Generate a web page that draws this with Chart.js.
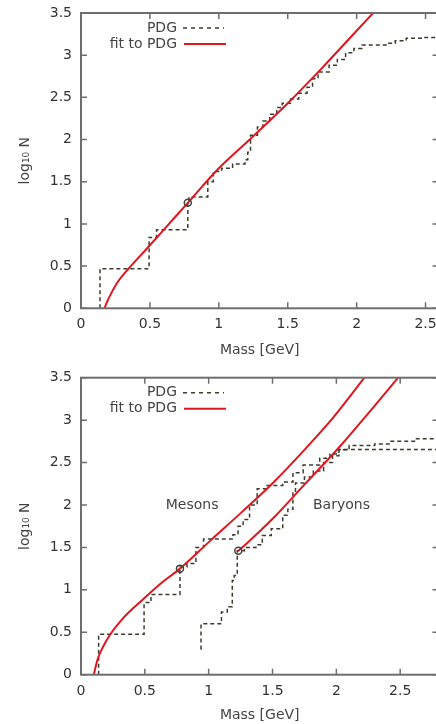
<!DOCTYPE html>
<html>
<head>
<meta charset="utf-8">
<script src="https://cdn.jsdelivr.net/npm/chart.js@4.4.0/dist/chart.umd.min.js"></script>
<style>
  html, body { margin: 0; padding: 0; background: #fff; overflow: hidden; width: 436px; height: 724px; }
  .box { position: absolute; left: 0; width: 444px; height: 362px; }
</style>
</head>
<body>
<div class="box" style="top:0"><canvas id="topChart" width="444" height="362"></canvas></div>
<div class="box" style="top:362px"><canvas id="bottomChart" width="444" height="362"></canvas></div>
<script>
// tick values shared by both panels
const xTickValues = [0, 0.5, 1, 1.5, 2, 2.5];
const yTickValues = [0, 0.5, 1, 1.5, 2, 2.5, 3, 3.5];

// top panel: all hadrons
const allPdgMass = [0.138, 0.138, 0.494, 0.548, 0.775, 0.783, 0.92, 0.96, 1.02, 1.1, 1.19, 1.21, 1.23, 1.28, 1.32, 1.37, 1.42, 1.46, 1.52, 1.58, 1.64, 1.68, 1.72, 1.8, 1.86, 1.92, 1.98, 2.04, 2.22, 2.28, 2.36, 2.48, 2.6];
const allPdgLogN = [0, 0.47, 0.84, 0.93, 1.25, 1.32, 1.5, 1.62, 1.66, 1.71, 1.76, 1.85, 2.05, 2.15, 2.22, 2.3, 2.38, 2.43, 2.48, 2.55, 2.62, 2.72, 2.8, 2.88, 2.95, 3.03, 3.08, 3.12, 3.14, 3.17, 3.2, 3.21, 3.22];
const allFitMass = [0.17, 0.19, 0.22, 0.27, 0.34, 0.49, 0.6, 0.775, 1.0, 1.25, 1.5, 1.75, 2.0, 2.12];
const allFitLogN = [0, 0.08, 0.18, 0.32, 0.46, 0.73, 0.93, 1.25, 1.66, 2.04, 2.43, 2.85, 3.29, 3.5];
const allMarkMass = [0.775];
const allMarkLogN = [1.25];

// bottom panel: mesons and baryons
const mesonPdgMass = [0.138, 0.138, 0.494, 0.548, 0.775, 0.83, 0.9, 0.96, 1.19, 1.23, 1.27, 1.32, 1.38, 1.45, 1.58, 1.66, 1.74, 1.87, 1.95, 2.02, 2.1, 2.3, 2.42, 2.62, 2.8];
const mesonPdgLogN = [0, 0.477, 0.85, 0.945, 1.27, 1.31, 1.5, 1.6, 1.65, 1.75, 1.83, 2.0, 2.19, 2.23, 2.27, 2.38, 2.47, 2.55, 2.6, 2.65, 2.7, 2.72, 2.75, 2.78, 2.78];
const baryonPdgMass = [0.938, 0.94, 1.1, 1.146, 1.185, 1.2, 1.224, 1.28, 1.37, 1.42, 1.49, 1.58, 1.62, 1.66, 1.68, 1.75, 1.82, 1.9, 1.97, 2.02, 2.8];
const baryonPdgLogN = [0.3, 0.6, 0.74, 0.8, 1.11, 1.17, 1.46, 1.5, 1.53, 1.64, 1.72, 1.88, 1.95, 2.14, 2.26, 2.33, 2.4, 2.5, 2.58, 2.655, 2.655];
const mesonFitMass = [0.1, 0.13, 0.17, 0.227, 0.32, 0.487, 0.62, 0.775, 1.013, 1.255, 1.503, 1.75, 1.97, 2.22];
const mesonFitLogN = [0, 0.18, 0.32, 0.47, 0.65, 0.89, 1.07, 1.25, 1.58, 1.91, 2.26, 2.65, 3.02, 3.5];
const baryonFitMass = [1.232, 1.3, 1.4, 1.503, 1.75, 2.01, 2.25, 2.484];
const baryonFitLogN = [1.46, 1.55, 1.69, 1.84, 2.24, 2.66, 3.08, 3.5];
const splitMarkMass = [0.775, 1.232];
const splitMarkLogN = [1.25, 1.46];

const labelText = ['Mesons', 'Baryons'];
const labelMass = [0.87, 2.04];
const labelLogN = [2.0, 2.0];

const FONT = "'DejaVu Sans', sans-serif";
const RED = '#e0161e';
const DASH = '#3c3c2e';

function toPoints(xs, ys) {
  return xs.map((x, i) => ({ x: x, y: ys[i] }));
}

function pdgSet(xs, ys) {
  return { data: toPoints(xs, ys), stepped: true, borderColor: DASH, borderWidth: 1.5,
           borderDash: [4, 3], pointRadius: 0, fill: false };
}
function fitSet(xs, ys) {
  return { data: toPoints(xs, ys), borderColor: RED, borderWidth: 2, pointRadius: 0,
           cubicInterpolationMode: 'monotone', fill: false };
}
function markSet(xs, ys) {
  return { data: toPoints(xs, ys), showLine: false, pointRadius: 3.5, pointBorderWidth: 1.5,
           pointBorderColor: '#444', pointBackgroundColor: 'rgba(0,0,0,0)' };
}

// gnuplot-like box, inward ticks, key and labels
const frame = {
  id: 'frame',
  afterDraw(chart, args, opts) {
    const { ctx, chartArea: a, scales: { x, y } } = chart;
    ctx.save();
    ctx.strokeStyle = '#6e6e6e';
    ctx.lineWidth = 1.5;
    ctx.beginPath();
    x.ticks.forEach(t => {
      const px = x.getPixelForValue(t.value);
      ctx.moveTo(px, a.bottom); ctx.lineTo(px, a.bottom - 6);
      ctx.moveTo(px, a.top); ctx.lineTo(px, a.top + 6);
    });
    y.ticks.forEach(t => {
      const py = y.getPixelForValue(t.value);
      ctx.moveTo(a.left, py); ctx.lineTo(a.left + 6, py);
      ctx.moveTo(a.right, py); ctx.lineTo(a.right - 6, py);
    });
    ctx.stroke();
    ctx.lineWidth = 2;
    ctx.strokeRect(a.left, a.top, a.right - a.left, a.bottom - a.top);

    // key
    ctx.font = '14px ' + FONT;
    ctx.fillStyle = '#444';
    ctx.textAlign = 'right';
    ctx.textBaseline = 'middle';
    ctx.fillText('PDG', a.left + 96, a.top + 15);
    ctx.fillText('fit to PDG', a.left + 96, a.top + 31);
    ctx.lineWidth = 1.5;
    ctx.strokeStyle = DASH;
    ctx.setLineDash([4, 4]);
    ctx.beginPath(); ctx.moveTo(a.left + 102, a.top + 15); ctx.lineTo(a.left + 143, a.top + 15); ctx.stroke();
    ctx.setLineDash([]);
    ctx.strokeStyle = RED;
    ctx.lineWidth = 2;
    ctx.beginPath(); ctx.moveTo(a.left + 103, a.top + 31); ctx.lineTo(a.left + 145, a.top + 31); ctx.stroke();

    // text labels in data coordinates
    ctx.textAlign = 'center';
    ctx.fillStyle = '#444';
    (opts.labels || []).forEach(l => {
      ctx.fillText(l.text, x.getPixelForValue(l.x), y.getPixelForValue(l.y));
    });
    ctx.restore();
  }
};

function makeChart(id, datasets, xMax, padTop, axisHeight, titlePad, labels) {
  return new Chart(document.getElementById(id), {
    type: 'line',
    data: { datasets: datasets },
    options: {
      responsive: false,
      animation: false,
      layout: { padding: { top: padTop, right: 1, left: 0, bottom: 0 } },
      plugins: { legend: { display: false }, tooltip: { enabled: false }, frame: { labels: labels } },
      scales: {
        x: {
          type: 'linear', min: 0, max: xMax,
          afterBuildTicks: s => { s.ticks = xTickValues.map(v => ({ value: v })); },
          afterFit: s => { s.height = axisHeight; s.paddingLeft = 0; s.paddingRight = 0; },
          grid: { display: false, drawTicks: false },
          border: { display: false },
          ticks: { padding: 8, maxRotation: 0, autoSkip: false, color: '#333', font: { family: FONT, size: 14 },
                   callback: v => String(v) },
          title: { display: true, text: 'Mass [GeV]', color: '#444', padding: { top: 0, bottom: titlePad },
                   font: { family: FONT, size: 14 } }
        },
        y: {
          type: 'linear', min: 0, max: 3.5,
          afterBuildTicks: s => { s.ticks = yTickValues.map(v => ({ value: v })); },
          afterFit: s => { s.width = 81; s.paddingTop = 0; s.paddingBottom = 0; },
          grid: { display: false, drawTicks: false },
          border: { display: false },
          ticks: { padding: 9, color: '#333', font: { family: FONT, size: 14 }, callback: v => String(v) },
          title: { display: true, text: 'log\u2081\u2080 N', color: '#444', padding: { top: 16.5, bottom: 0 },
                   font: { family: FONT, size: 14 } }
        }
      }
    },
    plugins: [frame]
  });
}

makeChart('topChart', [
  markSet(allMarkMass, allMarkLogN),
  fitSet(allFitMass, allFitLogN),
  pdgSet(allPdgMass, allPdgLogN)
], 2.594, 13, 53.7, 3.6, []);

makeChart('bottomChart', [
  markSet(splitMarkMass, splitMarkLogN),
  fitSet(mesonFitMass, mesonFitLogN),
  fitSet(baryonFitMass, baryonFitLogN),
  pdgSet(mesonPdgMass, mesonPdgLogN),
  pdgSet(baryonPdgMass, baryonPdgLogN)
], 2.8, 15.7, 49.3, 0.3, labelText.map((t, i) => ({ text: t, x: labelMass[i], y: labelLogN[i] })));
</script>
</body>
</html>
